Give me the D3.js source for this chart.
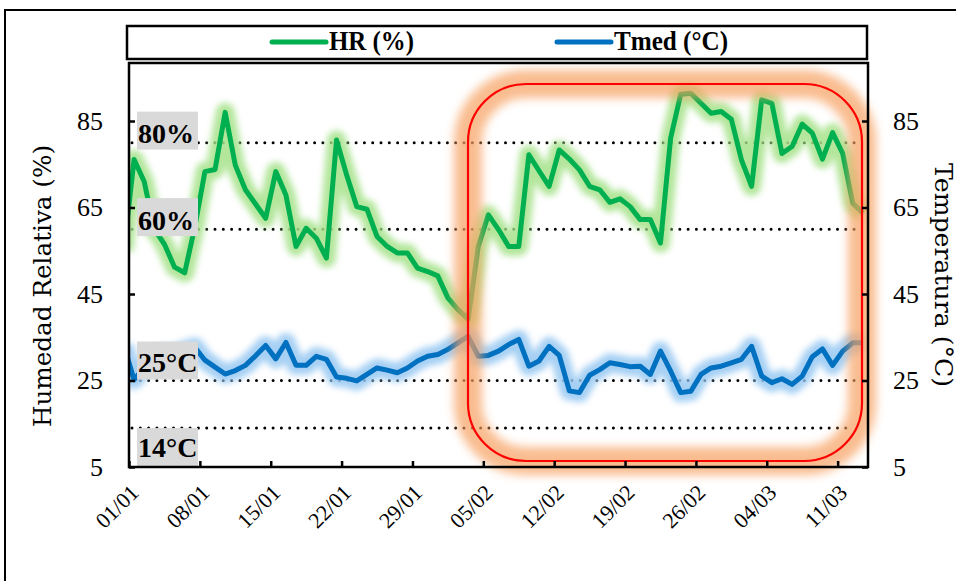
<!DOCTYPE html>
<html lang="es">
<head>
<meta charset="UTF-8">
<title>HR y Tmed</title>
<script src="https://d3js.org/d3.v7.min.js"></script>
<style>
  body { margin: 0; background: #fff; }
  #canvas { display: block; }
  .axis path, .axis line { stroke: #000; stroke-width: 2.5px; }
  .axis text { font-family: "Liberation Serif", serif; font-size: 26px; fill: #000; }
  .xlab { font-family: "Liberation Serif", serif; font-size: 22px; fill: #000; }
  .title { font-family: "DejaVu Serif", serif; font-size: 24px; fill: #000; }
  .reflab { font-family: "Liberation Serif", serif; font-size: 28px; font-weight: bold; fill: #000; }
  .legtxt { font-family: "Liberation Serif", serif; font-size: 27px; font-weight: bold; fill: #000; }
</style>
</head>
<body>
<svg id="canvas" width="956" height="581"></svg>
<script>
    // daily series, 31/12 to 13/03 (first day sits left of the axis and is clipped)
    let startDay = new Date(2023, 11, 31)
    let endDay = new Date(2024, 2, 14)
    let dias = d3.timeDay.range(startDay, endDay)

    let hr = [55, 76.1, 71.0, 60, 56.5, 51.2, 49.9, 60.5, 73.3, 73.8,
        87.0, 74.8, 69.1, 65.8, 62.5, 73.3, 67.9, 56.0, 60.2, 57.9,
        53.3, 80.6, 72.5, 65.2, 64.6, 58.3, 56.0, 54.5, 54.5, 51.0,
        50.2, 49.2, 44.1, 41.4, 39.2, 56.0, 63.3, 59.9, 56.0, 56.0,
        77.2, 73.5, 69.9, 78.3, 76.2, 73.7, 69.9, 69.1, 66.2, 67.0,
        65.2, 62.2, 62.2, 56.8, 81.0, 91.2, 91.4, 89.1, 86.8, 87.2,
        85.4, 76.0, 69.9, 89.9, 89.1, 77.5, 79.1, 84.3, 82.2, 76.2,
        82.3, 77.5, 66.0, 63.7]

    let tmed = [33, 25.2, 28, 30, 31, 31, 32, 32.7, 29.7, 28.1,
        26.5, 27.3, 28.5, 30.7, 33.1, 30.0, 33.8, 28.5, 28.5, 30.6,
        29.9, 25.8, 25.5, 24.9, 26.4, 27.9, 27.4, 26.8, 27.9, 29.5,
        30.6, 31.0, 32.2, 33.7, 35.2, 30.6, 30.8, 31.8, 33.3, 34.5,
        28.3, 29.5, 32.9, 30.8, 22.6, 22.2, 26.2, 27.5, 29.1, 28.7,
        28.2, 28.3, 26.4, 31.8, 27.2, 22.2, 22.5, 26.4, 27.9, 28.3,
        29.1, 29.9, 32.9, 26.0, 24.5, 25.4, 24.1, 26.0, 30.5, 32.3,
        28.5, 31.8, 33.7, 33.7]

    let xTicks = ["01/01", "08/01", "15/01", "22/01", "29/01", "05/02",
        "12/02", "19/02", "26/02", "04/03", "11/03"]
    let yTicks = [5, 25, 45, 65, 85]

    let refValues = [80, 60, 25, 14]
    let refLabels = ["80%", "60%", "25°C", "14°C"]

    let seriesNames = ["HR (%)", "Tmed (°C)"]
    let seriesColors = ["#00b050", "#0070c0"]
    let glowColors = ["#a6e28a", "#96c8f2"]

    let parseDay = d3.timeParse("%d/%m/%Y")
    let pLeft = 129, pRight = 868, pTop = 63, pBottom = 467

    let svg = d3.select("#canvas")
    let defs = svg.append("defs")
    defs.append("filter").attr("id", "glow")
        .attr("filterUnits", "userSpaceOnUse")
        .attr("x", 0).attr("y", 0).attr("width", 956).attr("height", 581)
        .append("feGaussianBlur").attr("stdDeviation", 3)
    defs.append("filter").attr("id", "glowBig")
        .attr("filterUnits", "userSpaceOnUse")
        .attr("x", 0).attr("y", 0).attr("width", 956).attr("height", 581)
        .append("feGaussianBlur").attr("stdDeviation", 5)
    defs.append("clipPath").attr("id", "plotClip")
        .append("rect").attr("x", pLeft).attr("y", pTop)
        .attr("width", pRight - pLeft).attr("height", pBottom - pTop)

    // outer frame (runs off the picture to the right and bottom)
    svg.append("path").attr("d", "M5,590 L5,10 L970,10")
        .attr("fill", "none").attr("stroke", "#000").attr("stroke-width", 2)

    let x = d3.scaleTime().domain([new Date(2024, 0, 1), endDay]).range([pLeft, pRight])
    let y = d3.scaleLinear().domain([5, 85]).range([pBottom, 121])
    let mid = d => d3.timeHour.offset(d, 12)

    // reference dotted lines
    svg.append("g").selectAll("line").data(refValues).enter().append("line")
        .attr("x1", pLeft + 3).attr("x2", (d, i) => i == 3 ? 850 : 858)
        .attr("y1", d => y(d)).attr("y2", d => y(d))
        .attr("stroke", "#000").attr("stroke-width", 3)
        .attr("stroke-linecap", "round").attr("stroke-dasharray", "0 8.3")

    let series = [hr, tmed]
    let lineGen = d3.line().x((d, i) => x(mid(dias[i]))).y(d => y(d))
    let plot = svg.append("g").attr("clip-path", "url(#plotClip)")
    series.forEach(function (s, k) {
        plot.append("path").attr("d", lineGen(s))
            .attr("fill", "none").attr("stroke", glowColors[k])
            .attr("stroke-width", 19).attr("stroke-linejoin", "round")
            .attr("opacity", 0.85).attr("filter", "url(#glow)")
    })
    series.forEach(function (s, k) {
        plot.append("path").attr("d", lineGen(s))
            .attr("fill", "none").attr("stroke", seriesColors[k])
            .attr("stroke-width", 5).attr("stroke-linejoin", "round")
    })

    // grey label boxes of the reference lines
    let boxTop = [-31, -31, -39, 0]
    let baseOff = [0, 1, -8.5, 29]
    let refG = svg.append("g").selectAll("g").data(refValues).enter().append("g")
    refG.append("rect").attr("x", 137).attr("width", 61).attr("height", 38)
        .attr("y", (d, i) => y(d) + boxTop[i]).attr("fill", "#d9d9d9")
    refG.append("text").attr("class", "reflab").attr("x", 138)
        .attr("y", (d, i) => y(d) + baseOff[i]).text((d, i) => refLabels[i])

    // highlighted period
    let hx = 468, hy = 84, hw = 394, hh = 377
    svg.append("rect").attr("x", hx).attr("y", hy).attr("width", hw).attr("height", hh)
        .attr("rx", 58).attr("fill", "none").attr("stroke", "#f7a060")
        .attr("stroke-width", 28).attr("opacity", 0.7).attr("filter", "url(#glowBig)")
    svg.append("rect").attr("x", hx).attr("y", hy).attr("width", hw).attr("height", hh)
        .attr("rx", 58).attr("fill", "none").attr("stroke", "#ff0000").attr("stroke-width", 2.2)

    // axes
    let yLeft = d3.axisLeft(y).tickValues(yTicks).tickSize(-6).tickPadding(26)
    let yRight = d3.axisRight(y).tickValues(yTicks).tickSize(-6).tickPadding(25)
    let xAxis = d3.axisBottom(x).tickValues(xTicks.map(t => parseDay(t + "/2024")))
        .tickSize(-6).tickFormat("")
    svg.append("g").attr("class", "axis").attr("transform", `translate(${pLeft},0)`).call(yLeft)
    svg.append("g").attr("class", "axis").attr("transform", `translate(${pRight},0)`).call(yRight)
    svg.append("g").attr("class", "axis").attr("transform", `translate(0,${pBottom})`).call(xAxis)
    svg.selectAll(".axis path").attr("d", null)
    svg.append("rect").attr("x", pLeft).attr("y", pTop).attr("width", pRight - pLeft)
        .attr("height", pBottom - pTop).attr("fill", "none")
        .attr("stroke", "#000").attr("stroke-width", 2.5)

    svg.append("g").selectAll("text").data(xTicks).enter().append("text")
        .attr("class", "xlab").attr("text-anchor", "end")
        .attr("transform", d => `translate(${x(parseDay(d + "/2024")) + 11},${pBottom + 27}) rotate(-45)`)
        .text(d => d)

    // axis titles
    svg.append("text").attr("class", "title").attr("text-anchor", "middle")
        .attr("dominant-baseline", "central")
        .attr("transform", "translate(43,286) rotate(-90)")
        .attr("textLength", 282).attr("lengthAdjust", "spacingAndGlyphs")
        .text("Humedad Relativa (%)")
    svg.append("text").attr("class", "title").attr("text-anchor", "middle")
        .attr("dominant-baseline", "central")
        .attr("transform", "translate(943,275) rotate(90)")
        .attr("textLength", 224).attr("lengthAdjust", "spacingAndGlyphs")
        .text("Temperatura (°C)")

    // legend
    let leg = svg.append("g")
    leg.append("rect").attr("x", 127).attr("y", 26).attr("width", 740).attr("height", 33)
        .attr("fill", "#fff").attr("stroke", "#000").attr("stroke-width", 2.5)
    let legX = [272, 557]
    let legLen = [85, 114]
    seriesNames.forEach(function (n, k) {
        leg.append("line").attr("x1", legX[k]).attr("x2", legX[k] + 54)
            .attr("y1", 42).attr("y2", 42).attr("stroke", seriesColors[k])
            .attr("stroke-width", 5).attr("stroke-linecap", "round")
        leg.append("text").attr("class", "legtxt").attr("x", legX[k] + 57).attr("y", 50)
            .attr("textLength", legLen[k]).attr("lengthAdjust", "spacingAndGlyphs")
            .text(n)
    })
</script>
</body>
</html>
